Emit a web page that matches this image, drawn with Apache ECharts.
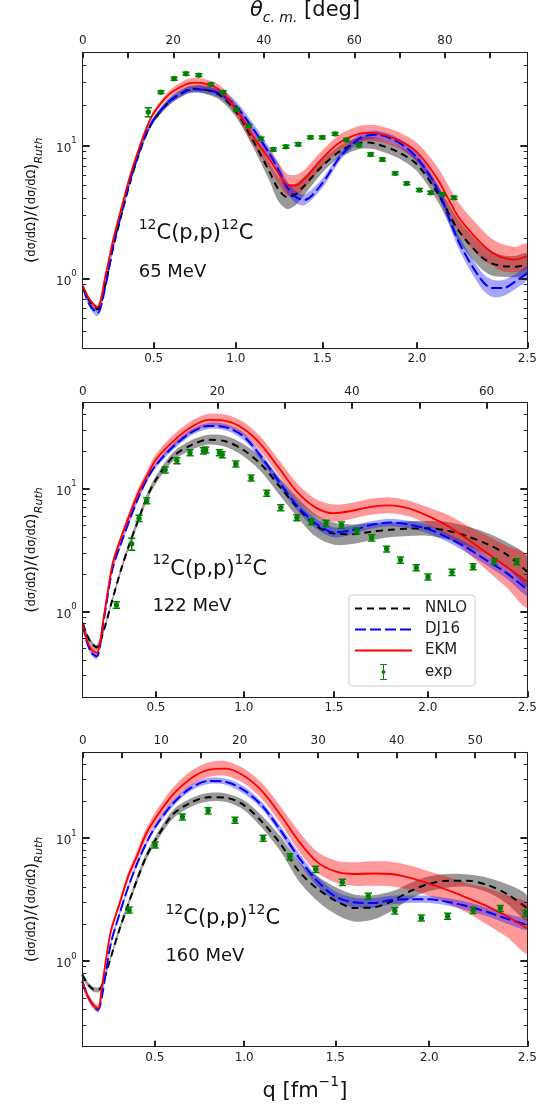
<!DOCTYPE html>
<html>
<head>
<meta charset="utf-8">
<script src="https://cdn.jsdelivr.net/npm/echarts@6/dist/echarts.min.js"></script>
<style>
  html, body { margin: 0; padding: 0; background: #fff; }
  #chart { width: 538px; height: 1106px; }
</style>
</head>
<body>
<div id="chart"></div>
<script>
// ---------------- data ----------------
// momentum transfer q [fm^-1] grids and ratio to Rutherford for each model

// 65 MeV
const q_65 = [0.06, 0.1, 0.15, 0.2, 0.25, 0.3, 0.35, 0.4, 0.45, 0.5, 0.6, 0.7, 0.75, 0.8, 0.9, 1.0, 1.1, 1.2, 1.25, 1.3, 1.35, 1.4, 1.5, 1.6, 1.7, 1.75, 1.8, 1.9, 2.0, 2.1, 2.2, 2.3, 2.35, 2.4, 2.45, 2.5];
const nnlo_65 = [0.86, 0.68, 0.59, 0.92, 1.75, 3.0, 5.1, 8.0, 11.8, 15.5, 21.5, 25.8, 26.6, 26.4, 24.0, 18.0, 11.0, 6.3, 4.7, 4.1, 4.3, 5.0, 7.0, 9.1, 10.4, 10.5, 10.2, 9.0, 7.2, 4.4, 2.3, 1.48, 1.3, 1.24, 1.23, 1.28];
const dj16_65 = [0.85, 0.64, 0.55, 0.88, 1.8, 3.1, 5.3, 8.2, 12.0, 15.6, 21.6, 25.6, 26.4, 26.3, 24.6, 19.8, 13.5, 8.6, 6.6, 4.9, 4.1, 3.9, 5.2, 8.3, 11.2, 11.9, 12.0, 10.7, 8.1, 4.7, 1.9, 1.0, 0.85, 0.85, 0.95, 1.1];
const ekm_65 = [0.87, 0.70, 0.61, 1.05, 2.0, 3.4, 5.7, 8.8, 13.0, 17.5, 24.5, 28.8, 29.6, 29.3, 26.3, 18.8, 11.8, 7.8, 6.2, 5.1, 5.0, 5.6, 8.0, 10.6, 12.2, 12.4, 12.3, 11.1, 8.9, 5.6, 2.9, 1.86, 1.58, 1.43, 1.39, 1.48];
// uncertainty bands: half-width in decades
const nnloBand_65 = [0.015, 0.015, 0.015, 0.015, 0.015, 0.015, 0.015, 0.015, 0.02, 0.02, 0.025, 0.025, 0.025, 0.03, 0.035, 0.04, 0.05, 0.07, 0.09, 0.09, 0.08, 0.07, 0.05, 0.045, 0.045, 0.045, 0.045, 0.045, 0.05, 0.06, 0.08, 0.09, 0.09, 0.08, 0.08, 0.08];
const dj16Band_65 = [0.02, 0.02, 0.02, 0.02, 0.02, 0.02, 0.02, 0.02, 0.02, 0.02, 0.025, 0.025, 0.025, 0.025, 0.03, 0.035, 0.04, 0.045, 0.045, 0.045, 0.045, 0.04, 0.035, 0.03, 0.03, 0.03, 0.03, 0.03, 0.035, 0.04, 0.05, 0.06, 0.065, 0.06, 0.055, 0.05];
const ekmBand_65 = [0.015, 0.015, 0.015, 0.015, 0.015, 0.015, 0.015, 0.02, 0.02, 0.02, 0.025, 0.035, 0.035, 0.035, 0.035, 0.045, 0.06, 0.07, 0.08, 0.08, 0.08, 0.07, 0.06, 0.06, 0.06, 0.06, 0.06, 0.06, 0.07, 0.09, 0.11, 0.11, 0.1, 0.1, 0.095, 0.09];
const expQ_65 = [0.467, 0.545, 0.626, 0.699, 0.777, 0.851, 0.925, 1.005, 1.078, 1.149, 1.221, 1.294, 1.364, 1.434, 1.500, 1.571, 1.634, 1.700, 1.763, 1.824, 1.890, 1.949, 2.012, 2.068, 2.124, 2.179];
const expV_65 = [17.8, 25.1, 31.7, 34.5, 33.7, 28.7, 25.1, 18.6, 14.0, 11.2, 9.33, 9.78, 10.2, 11.5, 11.5, 12.2, 11.0, 10.05, 8.55, 7.85, 6.17, 5.19, 4.62, 4.41, 4.29, 4.05];
const expErr_65 = [1.4, 0.6, 0.8, 0.9, 0.8, 0.7, 0.6, 0.5, 0.35, 0.3, 0.23, 0.24, 0.25, 0.29, 0.29, 0.3, 0.28, 0.25, 0.21, 0.2, 0.15, 0.13, 0.12, 0.11, 0.11, 0.1];

// 122 MeV
const q_122 = [0.08, 0.1, 0.13, 0.16, 0.2, 0.25, 0.3, 0.35, 0.4, 0.45, 0.5, 0.6, 0.7, 0.8, 0.9, 1.0, 1.1, 1.2, 1.3, 1.4, 1.5, 1.6, 1.7, 1.8, 1.9, 2.0, 2.1, 2.2, 2.3, 2.4, 2.5];
const nnlo_122 = [0.80, 0.66, 0.55, 0.51, 0.7, 1.25, 2.2, 3.6, 5.6, 8.6, 11.8, 18.3, 22.5, 25.0, 24.2, 20.5, 15.6, 10.4, 7.0, 5.0, 4.3, 4.25, 4.46, 4.62, 4.72, 4.75, 4.55, 4.1, 3.55, 2.9, 2.1];
const dj16_122 = [0.78, 0.58, 0.46, 0.43, 0.85, 2.2, 3.6, 5.6, 8.5, 12.0, 15.5, 22.0, 28.5, 32.3, 31.5, 26.5, 18.0, 11.2, 7.2, 5.2, 4.4, 4.6, 5.05, 5.3, 5.1, 4.7, 4.0, 3.3, 2.6, 2.05, 1.5];
const ekm_122 = [0.78, 0.6, 0.49, 0.46, 0.9, 2.4, 4.0, 6.2, 9.3, 12.8, 17.2, 24.3, 31.5, 36.2, 35.5, 30.5, 22.5, 14.5, 9.3, 7.0, 6.3, 6.6, 7.1, 7.3, 6.9, 6.0, 5.0, 3.9, 3.0, 2.3, 1.75];
const nnloBand_122 = [0.02, 0.02, 0.02, 0.02, 0.02, 0.02, 0.025, 0.025, 0.03, 0.03, 0.03, 0.035, 0.04, 0.04, 0.045, 0.05, 0.06, 0.07, 0.08, 0.09, 0.09, 0.08, 0.07, 0.06, 0.06, 0.06, 0.07, 0.08, 0.09, 0.1, 0.12];
const dj16Band_122 = [0.02, 0.02, 0.02, 0.02, 0.02, 0.02, 0.02, 0.02, 0.02, 0.02, 0.02, 0.025, 0.025, 0.025, 0.025, 0.03, 0.03, 0.035, 0.04, 0.04, 0.04, 0.035, 0.03, 0.03, 0.03, 0.035, 0.035, 0.04, 0.04, 0.045, 0.05];
const ekmBand_122 = [0.03, 0.03, 0.03, 0.03, 0.03, 0.03, 0.03, 0.035, 0.04, 0.04, 0.045, 0.05, 0.05, 0.05, 0.05, 0.055, 0.06, 0.065, 0.07, 0.07, 0.07, 0.065, 0.065, 0.065, 0.065, 0.07, 0.09, 0.11, 0.14, 0.17, 0.21];
const expQ_122 = [0.273, 0.361, 0.403, 0.447, 0.553, 0.620, 0.695, 0.771, 0.785, 0.862, 0.878, 0.955, 1.041, 1.129, 1.207, 1.296, 1.376, 1.457, 1.541, 1.624, 1.704, 1.784, 1.857, 1.940, 2.001, 2.125, 2.232, 2.338, 2.449];
const expV_122 = [1.13, 3.55, 5.73, 7.96, 14.2, 16.9, 19.6, 20.3, 20.6, 19.6, 18.9, 15.85, 12.2, 9.16, 7.0, 5.8, 5.38, 5.22, 5.05, 4.54, 3.98, 3.22, 2.62, 2.27, 1.91, 2.08, 2.31, 2.56, 2.54];
const expErr_122 = [0.07, 0.4, 0.33, 0.45, 0.8, 0.95, 1.1, 1.15, 1.15, 1.1, 1.05, 0.9, 0.7, 0.52, 0.4, 0.33, 0.3, 0.3, 0.29, 0.26, 0.23, 0.18, 0.15, 0.13, 0.11, 0.12, 0.13, 0.14, 0.14];

// 160 MeV
const q_160 = [0.09, 0.12, 0.15, 0.18, 0.2, 0.25, 0.3, 0.35, 0.4, 0.45, 0.5, 0.6, 0.7, 0.8, 0.9, 1.0, 1.1, 1.2, 1.3, 1.4, 1.5, 1.6, 1.7, 1.8, 1.9, 2.0, 2.1, 2.2, 2.3, 2.4, 2.5];
const nnlo_160 = [0.77, 0.65, 0.59, 0.58, 0.62, 1.05, 1.8, 2.9, 4.6, 7.0, 9.5, 15.5, 19.4, 21.5, 21.3, 18.5, 13.5, 9.0, 5.4, 3.9, 3.1, 2.7, 2.72, 3.05, 3.7, 4.25, 4.5, 4.5, 4.15, 3.5, 2.68];
const dj16_160 = [0.68, 0.52, 0.44, 0.40, 0.5, 1.35, 2.4, 4.0, 6.2, 9.0, 12.2, 19.0, 25.5, 29.2, 28.7, 24.5, 18.3, 11.6, 7.0, 4.5, 3.35, 3.0, 2.96, 3.13, 3.18, 3.17, 3.02, 2.78, 2.5, 2.2, 1.96];
const ekm_160 = [0.68, 0.52, 0.44, 0.41, 0.6, 1.7, 2.9, 4.9, 7.2, 10.8, 14.3, 22.5, 30.5, 36.0, 36.8, 32.0, 24.0, 15.5, 9.5, 6.4, 5.35, 5.1, 5.15, 5.1, 4.75, 4.25, 3.75, 3.24, 2.78, 2.3, 1.84];
const nnloBand_160 = [0.02, 0.02, 0.02, 0.02, 0.02, 0.02, 0.025, 0.025, 0.03, 0.03, 0.03, 0.035, 0.035, 0.035, 0.035, 0.04, 0.05, 0.06, 0.08, 0.1, 0.11, 0.11, 0.1, 0.08, 0.065, 0.06, 0.055, 0.05, 0.06, 0.08, 0.1];
const dj16Band_160 = [0.02, 0.02, 0.02, 0.02, 0.02, 0.02, 0.02, 0.02, 0.02, 0.02, 0.02, 0.025, 0.025, 0.025, 0.025, 0.03, 0.03, 0.035, 0.04, 0.04, 0.04, 0.04, 0.04, 0.035, 0.03, 0.03, 0.03, 0.035, 0.035, 0.04, 0.04];
const ekmBand_160 = [0.03, 0.03, 0.03, 0.03, 0.03, 0.03, 0.03, 0.035, 0.04, 0.045, 0.05, 0.055, 0.06, 0.06, 0.06, 0.06, 0.065, 0.07, 0.08, 0.085, 0.09, 0.095, 0.1, 0.1, 0.1, 0.1, 0.11, 0.12, 0.15, 0.17, 0.2];
const expQ_160 = [0.355, 0.502, 0.655, 0.799, 0.949, 1.105, 1.253, 1.394, 1.538, 1.678, 1.819, 1.959, 2.096, 2.227, 2.365, 2.491];
const expV_160 = [2.6, 8.8, 14.9, 16.7, 14.0, 10.0, 7.06, 5.57, 4.37, 3.37, 2.56, 2.24, 2.31, 2.58, 2.68, 2.44];
const expErr_160 = [0.15, 0.5, 0.85, 0.95, 0.8, 0.57, 0.4, 0.32, 0.25, 0.19, 0.15, 0.13, 0.13, 0.15, 0.15, 0.14];

// axis tick values
const qTicks = [0.5, 1.0, 1.5, 2.0, 2.5];
const yMajorTicks = [1, 10];
const yMinorTicks = [0.2, 0.3, 0.4, 0.5, 0.6, 0.7, 0.8, 0.9, 2, 3, 4, 5, 6, 7, 8, 9, 20, 30, 40, 50];
const energies = ['65 MeV', '122 MeV', '160 MeV'];

// ---------------- layout / styling ----------------
const FONT = 'DejaVu Sans';
const INK = '#222';
const COLORS = { NNLO: '#000000', DJ16: '#0000ff', EKM: '#ff0000', exp: '#008000' };
const BAND = { NNLO: 'rgba(0,0,0,0.4)', DJ16: 'rgba(0,0,255,0.35)', EKM: 'rgba(255,0,0,0.4)' };
const DASH = { NNLO: [7, 5], DJ16: [11, 4], EKM: 'solid' };

// each panel: grid placement, log range, c.m. angle calibration (2k in fm^-1) and top ticks
const panels = [
  { top: 52.3, height: 296, yMin: 0.3, yMax: 50, twoK: 3.285, psi0: 2.01, gain: 0.9889,
    thTicks: [0, 10, 20, 30, 40, 50, 60, 70, 80, 90], thLabels: [0, 20, 40, 60, 80],
    labelX: 138.7, reactY: 218, energyY: 263,
    q: q_65, NNLO: nnlo_65, DJ16: dj16_65, EKM: ekm_65,
    bands: { NNLO: nnloBand_65, DJ16: dj16Band_65, EKM: ekmBand_65 },
    expQ: expQ_65, expV: expV_65, expErr: expErr_65 },
  { top: 402.7, height: 294.6, yMin: 0.2, yMax: 50, twoK: 4.6, psi0: 1.96, gain: 0.9672,
    thTicks: [0, 10, 20, 30, 40, 50, 60], thLabels: [0, 20, 40, 60],
    labelX: 152.4, reactY: 553.7, energyY: 597,
    q: q_122, NNLO: nnlo_122, DJ16: dj16_122, EKM: ekm_122,
    bands: { NNLO: nnloBand_122, DJ16: dj16Band_122, EKM: ekmBand_122 },
    expQ: expQ_122, expV: expV_122, expErr: expErr_122 },
  { top: 752.3, height: 294.4, yMin: 0.2, yMax: 50, twoK: 5.2, psi0: 2.04, gain: 0.9788,
    thTicks: [0, 5, 10, 15, 20, 25, 30, 35, 40, 45, 50, 55], thLabels: [0, 10, 20, 30, 40, 50],
    labelX: 165.4, reactY: 903, energyY: 947,
    q: q_160, NNLO: nnlo_160, DJ16: dj16_160, EKM: ekm_160,
    bands: { NNLO: nnloBand_160, DJ16: dj16Band_160, EKM: ekmBand_160 },
    expQ: expQ_160, expV: expV_160, expErr: expErr_160 }
];

// q -> scattering angle on the (linear) top angle axis
function thetaOf(q, P) {
  const psi = 2 * Math.asin(q / P.twoK) * 180 / Math.PI;
  return (psi - P.psi0) / P.gain;
}

const supRich = {
  b: { fontSize: 12, fontFamily: FONT, color: INK, lineHeight: 18, verticalAlign: 'bottom' },
  s: { fontSize: 8.5, fontFamily: FONT, color: INK, lineHeight: 8, verticalAlign: 'top' }
};

const yTitle = '{p|(}{f|dσ/dΩ}{p|)/(}{f|dσ/dΩ}{p|)}{r|Ruth}';
const yTitleRich = {
  p: { fontSize: 16, fontFamily: FONT, color: '#111', lineHeight: 26, verticalAlign: 'middle' },
  f: { fontSize: 11.5, fontFamily: FONT, color: '#111', lineHeight: 26, verticalAlign: 'middle' },
  r: { fontSize: 11, fontFamily: FONT, fontStyle: 'italic', color: '#111', lineHeight: 26, verticalAlign: 'bottom' }
};

const option = {
  animation: false,
  backgroundColor: '#fff',
  grid: [], xAxis: [], yAxis: [], series: [], graphic: [],
  legend: {
    left: 349, top: 595, orient: 'vertical',
    itemWidth: 57, itemHeight: 16, itemGap: 6,
    padding: [6, 8, 6, 5],
    backgroundColor: 'rgba(255,255,255,0.85)', borderColor: '#cccccc', borderWidth: 1, borderRadius: 3,
    selectedMode: false,
    textStyle: { fontFamily: FONT, fontSize: 15, color: INK, padding: [0, 0, 0, 8] },
    data: [
      { name: 'NNLO', itemStyle: { opacity: 0 } },
      { name: 'DJ16', itemStyle: { opacity: 0 } },
      { name: 'EKM', itemStyle: { opacity: 0 } },
      { name: 'exp', icon: 'path://M0,0H10V1.6H5.7V22.4H10V24H0V22.4H4.3V1.6H0Z M5,9A3,3 0 0 1 5,15A3,3 0 0 1 5,9Z',
        itemStyle: { color: COLORS.exp } }
    ]
  }
};

panels.forEach(function (P, i) {
  const th = q => thetaOf(q, P);
  const thMax = th(2.5);
  option.grid.push({ left: 82.7, right: 10.7, top: P.top, height: P.height, containLabel: false, outerBoundsMode: 'none' });

  const frame = { show: true, lineStyle: { color: INK, width: 1 } };
  const qTickPos = qTicks.map(th);

  // bottom axis: q labels
  option.xAxis.push({
    type: 'value', gridIndex: i, position: 'bottom', min: 0, max: thMax, z: 10,
    axisLine: frame,
    axisTick: { show: true, inside: true, length: 6, lineStyle: { color: INK, width: 2 }, customValues: qTickPos },
    axisLabel: {
      show: true, customValues: qTickPos, margin: 5, fontFamily: FONT, fontSize: 12, color: INK,
      formatter: function (v) {
        let best = qTicks[0];
        qTicks.forEach(q => { if (Math.abs(th(q) - v) < Math.abs(th(best) - v)) best = q; });
        return best.toFixed(1);
      }
    },
    splitLine: { show: false },
    name: i === 2 ? '{n|q [fm}{s|−1}{n|]}' : '',
    nameLocation: 'middle', nameGap: 29,
    nameTextStyle: {
      rich: {
        n: { fontSize: 21, fontFamily: FONT, color: '#111', lineHeight: 26, verticalAlign: 'bottom' },
        s: { fontSize: 14, fontFamily: FONT, color: '#111', lineHeight: 12, verticalAlign: 'top' }
      }
    }
  });
  // top axis: c.m. angle
  option.xAxis.push({
    type: 'value', gridIndex: i, position: 'top', min: 0, max: thMax, z: 10,
    axisLine: frame,
    axisTick: { show: true, inside: true, length: 6, lineStyle: { color: INK, width: 2 }, customValues: P.thTicks },
    axisLabel: { show: true, customValues: P.thLabels, margin: 5, fontFamily: FONT, fontSize: 12, color: INK,
      formatter: v => String(Math.round(v)) },
    splitLine: { show: false },
    name: i === 0 ? '{t|θ}{c|c. m.}{n| [deg]}' : '',
    nameLocation: 'middle', nameGap: 27,
    nameTextStyle: {
      rich: {
        t: { fontSize: 21, fontFamily: FONT, fontStyle: 'italic', color: '#111', lineHeight: 25, verticalAlign: 'top' },
        c: { fontSize: 14, fontFamily: FONT, fontStyle: 'italic', color: '#111', lineHeight: 25, verticalAlign: 'bottom' },
        n: { fontSize: 21, fontFamily: FONT, color: '#111', lineHeight: 25, verticalAlign: 'top' }
      }
    }
  });

  const minor = yMinorTicks.filter(v => v >= P.yMin - 1e-9 && v <= P.yMax + 1e-9);
  const yBase = { type: 'log', logBase: 10, gridIndex: i, min: P.yMin, max: P.yMax, z: 10, splitLine: { show: false } };
  // left: major ticks + labels + title
  option.yAxis.push(Object.assign({}, yBase, {
    position: 'left', axisLine: frame,
    axisTick: { show: true, inside: true, length: 7, lineStyle: { color: INK, width: 2 }, customValues: yMajorTicks },
    axisLabel: { show: true, customValues: yMajorTicks, margin: 6,
      formatter: v => '{b|10}{s|' + Math.round(Math.log10(v)) + '}', rich: supRich },
    name: yTitle, nameLocation: 'middle', nameRotate: 90, nameGap: 38,
    nameTextStyle: { rich: yTitleRich }
  }));
  // left: minor ticks
  option.yAxis.push(Object.assign({}, yBase, {
    position: 'left', axisLine: { show: false },
    axisTick: { show: true, inside: true, length: 3.5, lineStyle: { color: INK, width: 1 }, customValues: minor },
    axisLabel: { show: false }
  }));
  // right: major and minor ticks
  option.yAxis.push(Object.assign({}, yBase, {
    position: 'right', axisLine: frame,
    axisTick: { show: true, inside: true, length: 7, lineStyle: { color: INK, width: 2 }, customValues: yMajorTicks },
    axisLabel: { show: false }
  }));
  option.yAxis.push(Object.assign({}, yBase, {
    position: 'right', axisLine: { show: false },
    axisTick: { show: true, inside: true, length: 3.5, lineStyle: { color: INK, width: 1 }, customValues: minor },
    axisLabel: { show: false }
  }));

  const xi = 2 * i, yi = 4 * i;

  // uncertainty bands (drawn first), then the model curves
  ['NNLO', 'EKM', 'DJ16'].forEach(function (m, k) {
    const pts = P.q.map((q, j) => [th(q), P[m][j] * Math.pow(10, -P.bands[m][j]), P[m][j] * Math.pow(10, P.bands[m][j])]);
    option.series.push({
      type: 'custom', coordinateSystem: 'cartesian2d', xAxisIndex: xi, yAxisIndex: yi,
      clip: true, silent: true, z: 1 + k * 0.1,
      encode: { x: 0, y: [1, 2] },
      data: pts,
      renderItem: function (params, api) {
        if (params.dataIndex !== 0) return null;
        const upper = pts.map(p => api.coord([p[0], p[2]]));
        const lower = pts.map(p => api.coord([p[0], p[1]])).reverse();
        return { type: 'polygon', shape: { points: upper.concat(lower), smooth: 0.3 },
          style: { fill: BAND[m], stroke: null } };
      }
    });
  });
  ['NNLO', 'DJ16', 'EKM'].forEach(function (m, k) {
    option.series.push({
      type: 'line', name: m, xAxisIndex: xi, yAxisIndex: yi,
      data: P.q.map((q, j) => [th(q), P[m][j]]),
      symbol: 'none', smooth: 0.3, clip: true, silent: true, z: 3 + k * 0.1,
      lineStyle: { color: COLORS[m], width: m === 'EKM' ? 1.8 : 2, type: DASH[m] },
      itemStyle: { color: COLORS[m] }
    });
  });
  // measured points with error bars
  option.series.push({
    type: 'custom', name: 'exp', coordinateSystem: 'cartesian2d', xAxisIndex: xi, yAxisIndex: yi,
    clip: true, silent: true, z: 5,
    itemStyle: { color: COLORS.exp },
    encode: { x: 0, y: 1 },
    data: P.expQ.map((q, j) => [th(q), P.expV[j], P.expV[j] - P.expErr[j], P.expV[j] + P.expErr[j]]),
    renderItem: function (params, api) {
      const x = api.value(0);
      const c = api.coord([x, api.value(1)]);
      const lo = api.coord([x, api.value(2)]);
      const hi = api.coord([x, api.value(3)]);
      const cap = 3.6;
      const st = { stroke: COLORS.exp, lineWidth: 1.5 };
      return { type: 'group', children: [
        { type: 'line', shape: { x1: c[0], y1: lo[1], x2: c[0], y2: hi[1] }, style: st },
        { type: 'line', shape: { x1: c[0] - cap, y1: lo[1], x2: c[0] + cap, y2: lo[1] }, style: st },
        { type: 'line', shape: { x1: c[0] - cap, y1: hi[1], x2: c[0] + cap, y2: hi[1] }, style: st },
        { type: 'circle', shape: { cx: c[0], cy: c[1], r: 2.7 }, style: { fill: COLORS.exp } }
      ] };
    }
  });

  // reaction and beam energy annotations
  option.graphic.push({
    type: 'text', left: P.labelX, top: P.reactY, z: 20,
    style: {
      text: '{s|12}{n|C(p,p)}{s|12}{n|C}', fill: '#111',
      rich: {
        n: { fontSize: 21, fontFamily: FONT, fill: '#111', lineHeight: 26, verticalAlign: 'bottom' },
        s: { fontSize: 14, fontFamily: FONT, fill: '#111', lineHeight: 12, verticalAlign: 'top' }
      }
    }
  });
  option.graphic.push({
    type: 'text', left: P.labelX, top: P.energyY, z: 20,
    style: { text: energies[i], fontSize: 18, fontFamily: FONT, fill: '#111' }
  });
});

const chart = echarts.init(document.getElementById('chart'), null, { renderer: 'canvas', width: 538, height: 1106 });
chart.setOption(option);
</script>
</body>
</html>
